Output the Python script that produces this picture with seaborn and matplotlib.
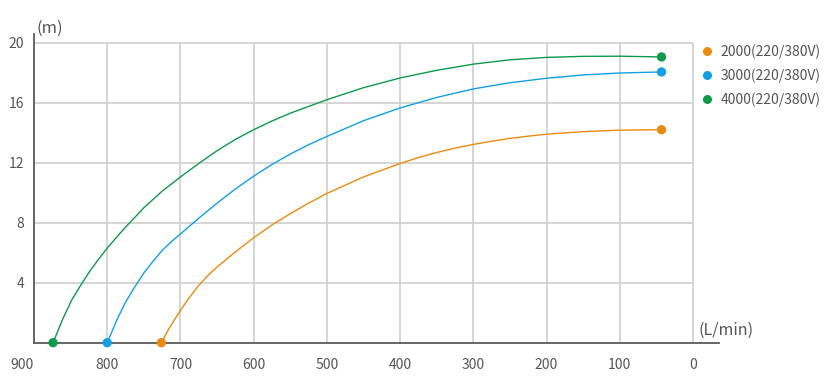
import matplotlib
matplotlib.use("Agg")
import matplotlib.pyplot as plt
from matplotlib.lines import Line2D
import seaborn as sns
import pandas as pd

sns.set_theme(style="white")
plt.rcParams['font.family'] = ['Noto Sans CJK SC', 'DejaVu Sans']

# ---- data ----
labels = ["2000(220/380V)", "3000(220/380V)", "4000(220/380V)"]
colors = ["#E98B10", "#12A0E4", "#0E9A4C"]

flow_2000 = [726, 715, 700, 688, 675, 662, 650, 625, 600, 575, 550, 525, 500, 450, 400, 375, 350, 325, 300, 275, 250, 225, 200, 150, 100, 43]
head_2000 = [0, 1.0, 2.15, 3.0, 3.82, 4.5, 5.05, 6.05, 7.0, 7.85, 8.6, 9.3, 9.95, 11.05, 11.95, 12.34, 12.68, 12.97, 13.22, 13.43, 13.62, 13.77, 13.9, 14.07, 14.17, 14.2]

flow_3000 = [800, 787, 775, 762, 750, 737, 725, 712, 700, 675, 650, 625, 600, 575, 550, 525, 500, 450, 400, 350, 300, 250, 200, 150, 100, 43]
head_3000 = [0, 1.5, 2.7, 3.75, 4.65, 5.45, 6.15, 6.75, 7.25, 8.3, 9.3, 10.25, 11.1, 11.88, 12.58, 13.2, 13.75, 14.8, 15.65, 16.35, 16.92, 17.33, 17.63, 17.85, 17.98, 18.05]

flow_4000 = [874, 861, 849, 836, 824, 812, 800, 787, 775, 762, 750, 737, 725, 700, 675, 650, 625, 600, 575, 550, 500, 450, 400, 350, 300, 250, 200, 150, 100, 43]
head_4000 = [0, 1.55, 2.8, 3.85, 4.75, 5.55, 6.3, 7.05, 7.7, 8.37, 9.0, 9.57, 10.1, 11.05, 11.95, 12.8, 13.55, 14.2, 14.78, 15.3, 16.2, 17.0, 17.65, 18.16, 18.57, 18.86, 19.02, 19.09, 19.1, 19.05]

x_ticks = [900, 800, 700, 600, 500, 400, 300, 200, 100, 0]
y_ticks = [4, 8, 12, 16, 20]

series = [(flow_2000, head_2000), (flow_3000, head_3000), (flow_4000, head_4000)]

# ---- figure ----
W, H = 835, 378
fig = plt.figure(figsize=(W / 100, H / 100), dpi=100)
left, right = 34 / W, 719 / W
bottom, top = (H - 342.7) / H, (H - 34) / H
ax = fig.add_axes([left, bottom, right - left, top - bottom])

ax.set_xlim(900, -35.5)
ax.set_ylim(0, 20.58)

grid_c = "#d2d2d2"
ax.vlines(x_ticks, 0, 20, color=grid_c, linewidth=1.3, zorder=0)
ax.hlines(y_ticks, 900, 0, color=grid_c, linewidth=1.3, zorder=0)

for (fx, hy), c in zip(series, colors):
    df = pd.DataFrame({"flow": fx, "head": hy})
    sns.lineplot(data=df, x="flow", y="head", color=c, linewidth=1.0,
                 sort=False, estimator=None, ax=ax, zorder=3)
    ends = df.iloc[[0, -1]]
    sns.scatterplot(data=ends, x="flow", y="head", color=c, s=45,
                    edgecolor="none", ax=ax, zorder=5, clip_on=False)

for s in ["top", "right"]:
    ax.spines[s].set_visible(False)
for s in ["left", "bottom"]:
    ax.spines[s].set_color("#5a5a5a")
    ax.spines[s].set_linewidth(1.3)
    ax.spines[s].set_zorder(4)

ax.set_xticks(x_ticks)
ax.set_xticklabels([str(v) for v in x_ticks])
ax.set_yticks(y_ticks)
ax.set_yticklabels([str(v) for v in y_ticks])
ax.tick_params(axis="both", length=0, labelsize=10, labelcolor="#555555")
ax.tick_params(axis="x", pad=11)
ax.tick_params(axis="y", pad=7)
ax.get_xticklabels()[0].set_ha("right")
ax.set_xlabel("")
ax.set_ylabel("")

fig.text(36 / W, (H - 28) / H, "(m)", fontsize=12, color="#555555", va="center", ha="left")
fig.text(699 / W, (H - 330) / H, "(L/min)", fontsize=11.5, color="#555555", va="center", ha="left")

handles = [Line2D([0], [0], marker="o", linestyle="none", markersize=6.5,
                  markerfacecolor=c, markeredgecolor="none") for c in colors]
fig.legend(handles, labels, loc="upper left", bbox_to_anchor=(701 / W, (H - 44) / H),
           frameon=False, fontsize=10, labelcolor="#555555", handlelength=0.9,
           handletextpad=0.5, labelspacing=0.66, borderaxespad=0, borderpad=0)

fig.savefig("out.png", dpi=100)
